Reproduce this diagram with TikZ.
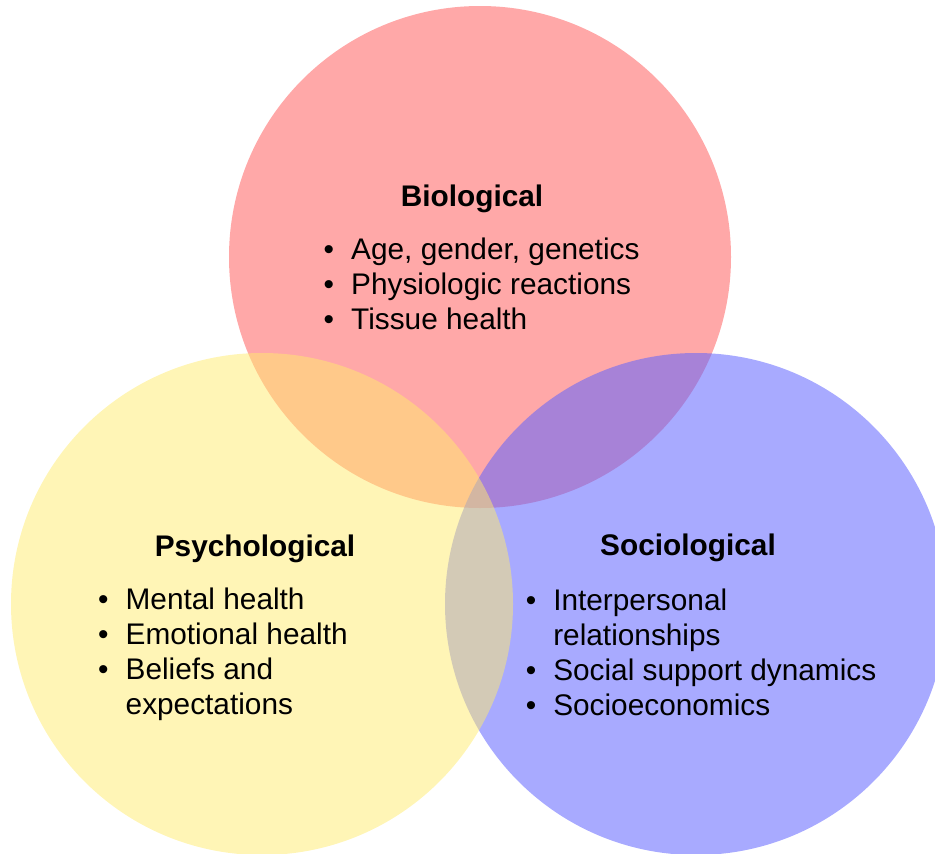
\documentclass[tikz,border=0pt]{standalone}
\usepackage{fontspec}
\setmainfont{Liberation Sans}
\definecolor{biored}{RGB}{255,168,168}
\definecolor{socblue}{RGB}{94,98,255}
\definecolor{psyyellow}{RGB}{255,235,110}
\newcommand{\bigfont}{\fontsize{29.8}{35}\selectfont}
\newcommand{\itm}{\makebox[27.5pt][l]{\textbullet}}
\tikzset{
  heading/.style={font=\bigfont\bfseries, anchor=base, inner sep=0pt},
  items/.style={font=\bigfont, anchor=base west, inner sep=0pt},
}
\begin{document}
\begin{tikzpicture}[x=1pt, y=-1pt]
  \useasboundingbox (0,0) rectangle (935,854);
  \clip (0,0) rectangle (935,854);
  % the three circles, yellow on top
  \fill[biored] (480,257) circle (251);
  \fill[socblue, fill opacity=0.54] (696,604) circle (251);
  \fill[psyyellow, fill opacity=0.5] (262,604) circle (251);
  % headings
  \node[heading] (bio) at (472,206) {Biological};
  \node[heading] (psy) at (255,556) {Psychological};
  \node[heading] (soc) at (688,555) {Sociological};
  % lists
  \node[items] (biolist) at (323.5,259) {\begin{tabular}[t]{@{}l@{}}
      \itm Age, gender, genetics\\
      \itm Physiologic reactions\\
      \itm Tissue health
    \end{tabular}};
  \node[items] (psylist) at (98,609) {\begin{tabular}[t]{@{}l@{}}
      \itm Mental health\\
      \itm Emotional health\\
      \itm Beliefs and\\
      \phantom{\itm}expectations
    \end{tabular}};
  \node[items] (soclist) at (525.6,610) {\begin{tabular}[t]{@{}l@{}}
      \itm Interpersonal\\
      \phantom{\itm}relationships\\
      \itm Social support dynamics\\
      \itm Socioeconomics
    \end{tabular}};
\end{tikzpicture}
\end{document}
